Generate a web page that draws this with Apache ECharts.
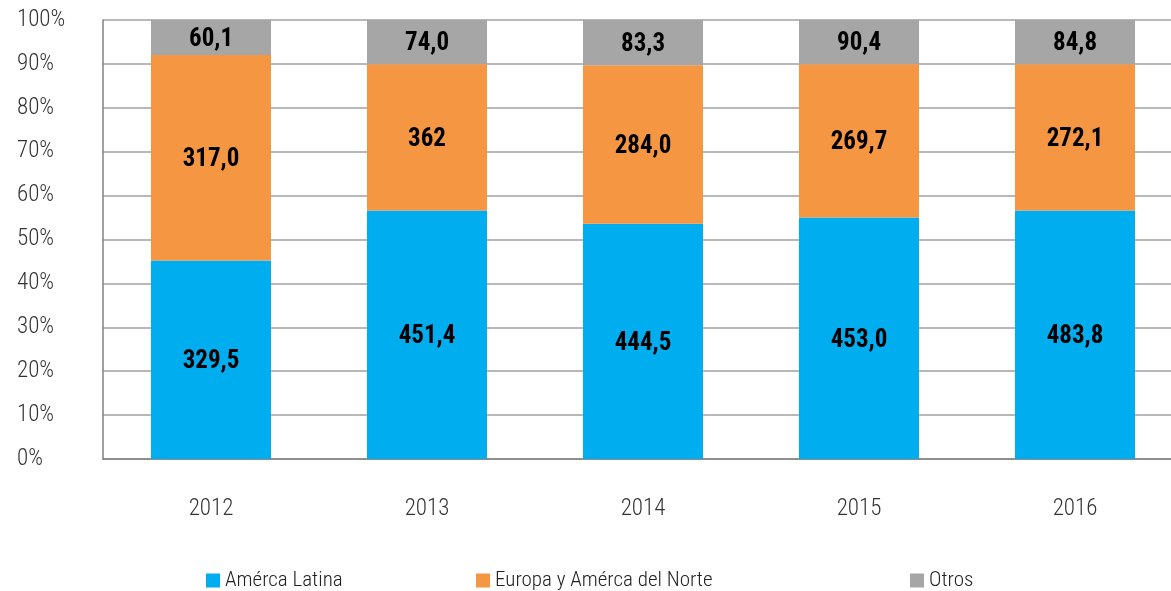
<!DOCTYPE html>
<html>
<head>
<meta charset="utf-8">
<script src="https://cdn.jsdelivr.net/npm/echarts@6/dist/echarts.min.js"></script>
<style>
  html, body { margin: 0; padding: 0; background: #fff; }
  #chart { width: 1171px; height: 591px; }
</style>
</head>
<body>
<div id="chart"></div>
<script>
const years = ['2012', '2013', '2014', '2015', '2016']
const seriesNames = ['Amérca Latina', 'Europa y Amérca del Norte', 'Otros']
// share of each year (%)
const latamShare = [45.2, 56.6, 53.6, 55.0, 56.6]
const europaShare = [46.8, 33.3, 36.1, 34.9, 33.3]
const otrosShare = [8.0, 10.1, 10.3, 10.1, 10.1]
// values printed on the bars
const latamLabels = ['329,5', '451,4', '444,5', '453,0', '483,8']
const europaLabels = ['317,0', '362', '284,0', '269,7', '272,1']
const otrosLabels = ['60,1', '74,0', '83,3', '90,4', '84,8']
const yTicks = ['0%', '10%', '20%', '30%', '40%', '50%', '60%', '70%', '80%', '90%', '100%']

const font = "'Roboto Condensed', 'DejaVu Sans Condensed', sans-serif"
const colors = ['#00adef', '#f59643', '#a6a6a6']

function makeSeries(name, values, labels, color) {
  return {
    name: name,
    type: 'bar',
    stack: 'total',
    barWidth: 120,
    data: values,
    itemStyle: { color: color },
    label: {
      show: true,
      position: 'inside',
      offset: [0, 2],
      formatter: p => labels[p.dataIndex],
      color: '#000',
      fontFamily: font,
      fontWeight: 'bold',
      fontSize: 25
    }
  }
}

function makeLegend(name, left) {
  return {
    data: [name],
    left: left,
    top: 565,
    itemWidth: 14,
    itemHeight: 14,
    itemGap: 10,
    icon: 'rect',
    textStyle: { fontFamily: font, fontWeight: 300, fontSize: 21, color: '#222' }
  }
}

const chart = echarts.init(document.getElementById('chart'))
chart.setOption({
  animation: false,
  color: colors,
  grid: { left: 103, top: 20, width: 1080, height: 439, outerBoundsMode: 'none', containLabel: false },
  legend: [
    makeLegend(seriesNames[0], 201),
    makeLegend(seriesNames[1], 471),
    makeLegend(seriesNames[2], 905)
  ],
  xAxis: {
    type: 'category',
    data: years,
    axisLine: { lineStyle: { color: '#808080', width: 1.5 } },
    axisTick: { show: false },
    axisLabel: { margin: 39, fontFamily: font, fontWeight: 300, fontSize: 23, color: '#333' }
  },
  yAxis: {
    type: 'value',
    min: 0,
    max: 100,
    interval: 10,
    axisLine: { show: true, lineStyle: { color: '#808080', width: 1.5 } },
    axisTick: { show: false },
    splitLine: { lineStyle: { color: '#a0a0a0', width: 1.5 } },
    axisLabel: {
      align: 'left',
      margin: 86,
      fontFamily: font,
      fontWeight: 300,
      fontSize: 23,
      color: '#333',
      formatter: v => yTicks[Math.round(v / 10)]
    }
  },
  series: [
    makeSeries(seriesNames[0], latamShare, latamLabels, colors[0]),
    makeSeries(seriesNames[1], europaShare, europaLabels, colors[1]),
    makeSeries(seriesNames[2], otrosShare, otrosLabels, colors[2])
  ]
})
</script>
</body>
</html>
